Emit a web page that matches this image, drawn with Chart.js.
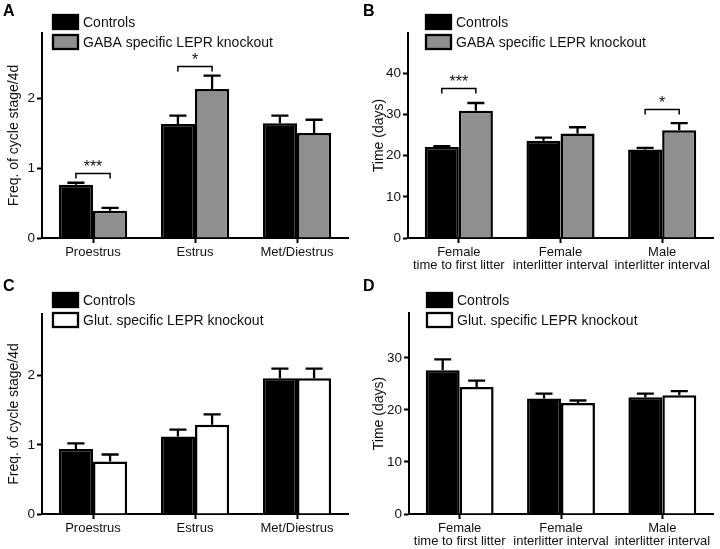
<!DOCTYPE html>
<html>
<head>
<meta charset="utf-8">
<script src="https://cdn.jsdelivr.net/npm/chart.js@4/dist/chart.umd.min.js"></script>
<style>
  body { margin: 0; background: #fff; }
  #grid { width: 720px; height: 549px; display: grid; grid-template-columns: 360px 360px; grid-template-rows: 275px 274px; }
  canvas { display: block; }
</style>
</head>
<body>
<div id="grid">
  <canvas id="panelA" width="360" height="275"></canvas>
  <canvas id="panelB" width="360" height="275"></canvas>
  <canvas id="panelC" width="360" height="274"></canvas>
  <canvas id="panelD" width="360" height="274"></canvas>
</div>
<script>
// Category labels
const cycleStages = ["Proestrus", "Estrus", "Met/Diestrus"];
const timeMeasures = [
  ["Female", "time to first litter"],
  ["Female", "interlitter interval"],
  ["Male", "interlitter interval"],
];

// Series labels
const controlLabel = "Controls";
const gabaLabel = "GABA specific LEPR knockout";
const glutLabel = "Glut. specific LEPR knockout";

// Panel A: cycle stage frequency, GABA knockout
const cycleControlsA = [0.76, 1.63, 1.64];
const cycleControlsSemA = [0.03, 0.12, 0.11];
const cycleGaba = [0.39, 2.13, 1.5];
const cycleGabaSem = [0.04, 0.19, 0.19];

// Panel B: time in days, GABA knockout
const timeControlsB = [22.1, 23.6, 21.5];
const timeControlsSemB = [0.2, 0.8, 0.4];
const timeGaba = [30.9, 25.4, 26.2];
const timeGabaSem = [1.9, 1.5, 1.7];

// Panel C: cycle stage frequency, Glut knockout
const cycleControlsC = [0.94, 1.12, 1.96];
const cycleControlsSemC = [0.08, 0.1, 0.14];
const cycleGlut = [0.76, 1.29, 1.96];
const cycleGlutSem = [0.1, 0.15, 0.14];

// Panel D: time in days, Glut knockout
const timeControlsD = [27.6, 22.2, 22.4];
const timeControlsSemD = [2.1, 0.9, 0.7];
const timeGlut = [24.4, 21.3, 22.8];
const timeGlutSem = [1.2, 0.5, 0.8];

// Significance brackets: [category index, bracket height, stars]
const bracketsA = [[0, 0.93, "***"], [1, 2.46, "*"]];
const bracketsB = [[0, 36.5, "***"], [2, 31.3, "*"]];

const FONT = "'Liberation Sans', Arial, sans-serif";
const GREY = "#8f8f8f";

// Draws panel letter, inset legend, error bars and significance brackets
const panelDecor = {
  id: "panelDecor",
  afterDatasetsDraw(chart) {
    const { ctx } = chart;
    const yScale = chart.scales.y;
    ctx.save();
    ctx.strokeStyle = "#000";
    ctx.lineWidth = 2.3;
    chart.data.datasets.forEach((ds, di) => {
      const meta = chart.getDatasetMeta(di);
      meta.data.forEach((bar, i) => {
        const top = yScale.getPixelForValue(ds.data[i]);
        const end = yScale.getPixelForValue(ds.data[i] + ds.sem[i]);
        const half = bar.width / 4;
        ctx.beginPath();
        ctx.moveTo(bar.x, top);
        ctx.lineTo(bar.x, end);
        ctx.moveTo(bar.x - half, end);
        ctx.lineTo(bar.x + half, end);
        ctx.stroke();
      });
    });
    ctx.restore();
  },
  afterDraw(chart, args, opts) {
    const { ctx } = chart;
    const yScale = chart.scales.y;
    ctx.save();

    // panel letter
    ctx.fillStyle = "#000";
    ctx.font = "bold 16px " + FONT;
    ctx.textBaseline = "top";
    ctx.textAlign = "left";
    ctx.fillText(opts.letter, 3, 4);

    // legend
    ctx.font = "14px " + FONT;
    ctx.textBaseline = "middle";
    chart.data.datasets.forEach((ds, i) => {
      const y = opts.legendY + i * 20;
      ctx.fillStyle = ds.backgroundColor;
      ctx.fillRect(opts.legendX, y - 7, 25, 14);
      ctx.lineWidth = 2.3;
      ctx.strokeStyle = "#000";
      ctx.strokeRect(opts.legendX, y - 7, 25, 14);
      ctx.fillStyle = "#111";
      ctx.fillText(ds.label, opts.legendX + 30, y + 1);
    });

    // significance brackets
    (opts.brackets || []).forEach(([idx, value, stars]) => {
      const x0 = chart.getDatasetMeta(0).data[idx].x;
      const x1 = chart.getDatasetMeta(1).data[idx].x;
      const y = Math.round(yScale.getPixelForValue(value)) + 0.5;
      ctx.strokeStyle = "#000";
      ctx.lineWidth = 1.5;
      ctx.beginPath();
      ctx.moveTo(x0, y + 5);
      ctx.lineTo(x0, y);
      ctx.lineTo(x1, y);
      ctx.lineTo(x1, y + 5);
      ctx.stroke();
      ctx.fillStyle = "#111";
      ctx.font = "16px " + FONT;
      ctx.textAlign = "center";
      ctx.textBaseline = "alphabetic";
      ctx.fillText(stars, (x0 + x1) / 2, y - 2);
    });
    ctx.restore();
  },
};

function makePanel(id, cfg) {
  const ctx = document.getElementById(id).getContext("2d");
  return new Chart(ctx, {
    type: "bar",
    data: {
      labels: cfg.labels,
      datasets: [
        {
          label: controlLabel,
          data: cfg.control,
          sem: cfg.controlSem,
          backgroundColor: "#000",
          borderColor: "#000",
          borderWidth: 2.5,
        },
        {
          label: cfg.koLabel,
          data: cfg.ko,
          sem: cfg.koSem,
          backgroundColor: cfg.koColor,
          borderColor: "#000",
          borderWidth: 2.5,
        },
      ],
    },
    options: {
      responsive: false,
      animation: false,
      categoryPercentage: 0.67,
      barPercentage: 1.0,
      layout: { padding: { top: cfg.top, right: cfg.right, left: 0, bottom: 0 } },
      plugins: {
        legend: { display: false },
        tooltip: { enabled: false },
        panelDecor: {
          letter: cfg.letter,
          legendX: cfg.legendX,
          legendY: cfg.legendY,
          brackets: cfg.brackets,
        },
      },
      scales: {
        x: {
          z: 1,
          border: { display: true, color: "#000", width: 2 },
          grid: {
            display: true,
            offset: false,
            drawOnChartArea: false,
            drawTicks: true,
            tickLength: 5,
            tickWidth: 2,
            tickColor: "#000",
          },
          ticks: {
            color: "#111",
            font: { family: FONT, size: 13, lineHeight: 1.0 },
            padding: 3,
            maxRotation: 0,
            autoSkip: false,
          },
          afterFit(scale) {
            scale.height = cfg.xHeight;
            scale.paddingLeft = 0;
            scale.paddingRight = 0;
          },
        },
        y: {
          min: 0,
          max: cfg.yMax,
          border: { display: true, color: "#000", width: 2 },
          grid: {
            display: true,
            drawOnChartArea: false,
            drawTicks: true,
            tickLength: 5,
            tickWidth: 2,
            tickColor: "#000",
          },
          ticks: {
            stepSize: cfg.step,
            includeBounds: false,
            color: "#111",
            font: { family: FONT, size: 13.5 },
            padding: 2,
          },
          title: {
            display: true,
            text: cfg.yTitle,
            color: "#111",
            font: { family: FONT, size: 14 },
            padding: { top: cfg.titlePad, bottom: 0 },
          },
          afterFit(scale) {
            scale.width = cfg.yWidth;
            scale.paddingTop = 0;
            scale.paddingBottom = 0;
          },
        },
      },
    },
    plugins: [panelDecor],
  });
}

makePanel("panelA", {
  letter: "A", labels: cycleStages,
  control: cycleControlsA, controlSem: cycleControlsSemA,
  ko: cycleGaba, koSem: cycleGabaSem, koLabel: gabaLabel, koColor: GREY,
  yMax: 2.93, step: 1, yTitle: "Freq. of cycle stage/4d",
  top: 33, right: 12, xHeight: 37, yWidth: 42, titlePad: 6,
  legendX: 53, legendY: 22, brackets: bracketsA,
});

makePanel("panelB", {
  letter: "B", labels: timeMeasures,
  control: timeControlsB, controlSem: timeControlsSemB,
  ko: timeGaba, koSem: timeGabaSem, koLabel: gabaLabel, koColor: GREY,
  yMax: 49.8, step: 10, yTitle: "Time (days)",
  top: 33, right: 7, xHeight: 37, yWidth: 48, titlePad: 11,
  legendX: 66, legendY: 22, brackets: bracketsB,
});

makePanel("panelC", {
  letter: "C", labels: cycleStages,
  control: cycleControlsC, controlSem: cycleControlsSemC,
  ko: cycleGlut, koSem: cycleGlutSem, koLabel: glutLabel, koColor: "#fff",
  yMax: 2.89, step: 1, yTitle: "Freq. of cycle stage/4d",
  top: 39, right: 12, xHeight: 35, yWidth: 42, titlePad: 6,
  legendX: 53, legendY: 25, brackets: [],
});

makePanel("panelD", {
  letter: "D", labels: timeMeasures,
  control: timeControlsD, controlSem: timeControlsSemD,
  ko: timeGlut, koSem: timeGlutSem, koLabel: glutLabel, koColor: "#fff",
  yMax: 38.6, step: 10, yTitle: "Time (days)",
  top: 38, right: 7, xHeight: 35, yWidth: 49, titlePad: 11,
  legendX: 67, legendY: 25, brackets: [],
});
</script>
</body>
</html>
